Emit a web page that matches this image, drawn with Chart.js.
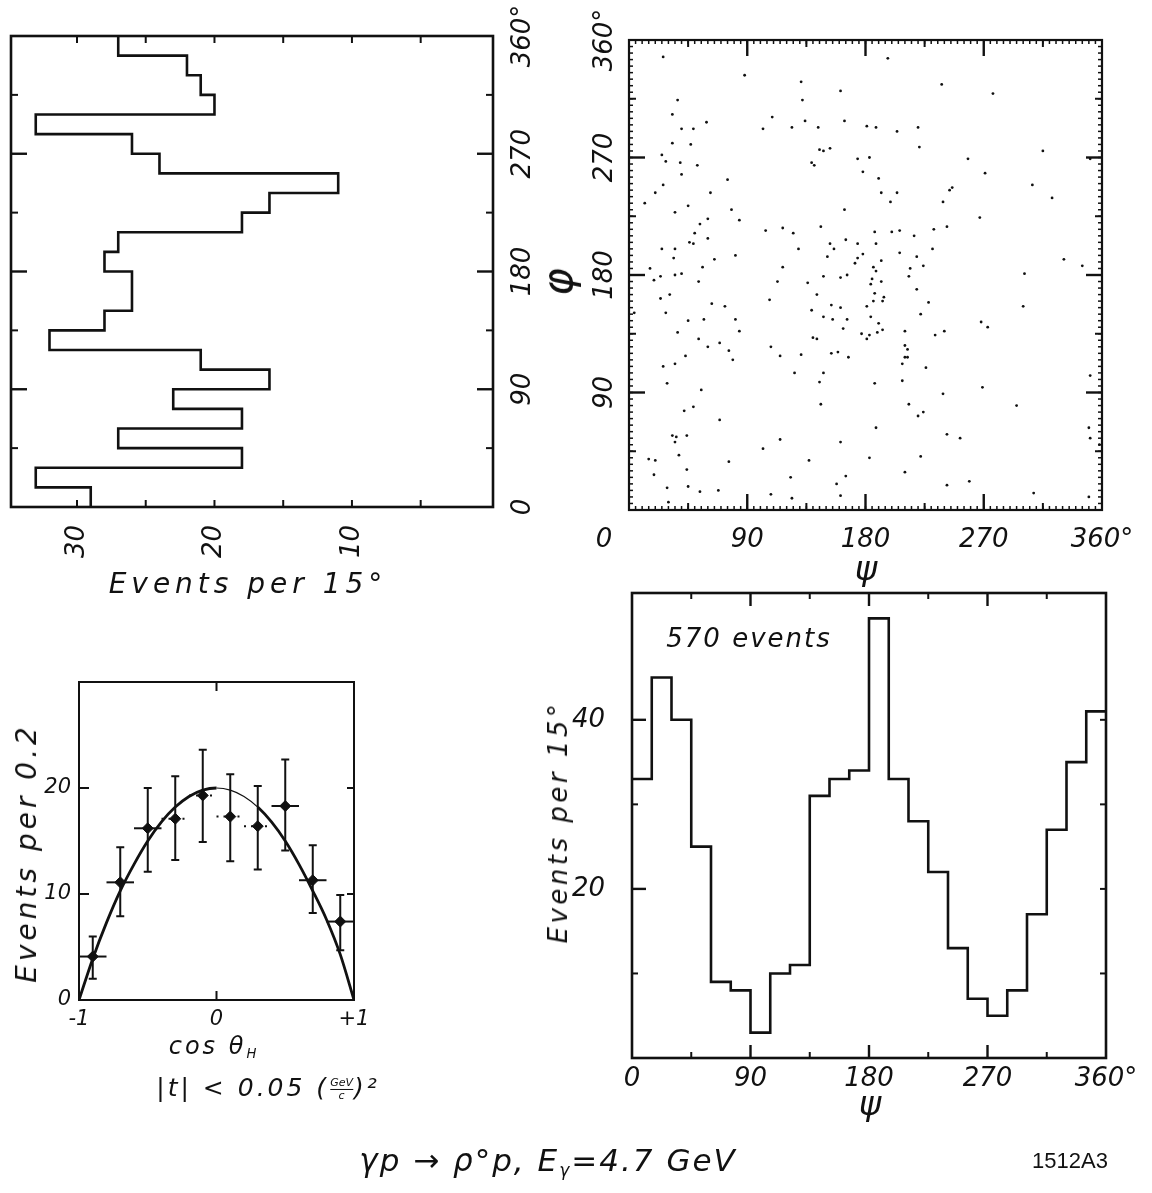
<!DOCTYPE html>
<html lang="en">
<head>
<meta charset="utf-8">
<title>γp → ρ°p, Eγ = 4.7 GeV</title>
<script src="https://cdn.jsdelivr.net/npm/chart.js@4.4.1/dist/chart.umd.min.js"></script>
<style>
  html, body { margin: 0; background: #fff; }
  #figura { position: relative; width: 1152px; height: 1193px; overflow: hidden;
            font-family: "DejaVu Sans", sans-serif; color: #111; }
  #figura canvas { position: absolute; left: 0; top: 0; }
  .rotulo { position: absolute; transform: translate(-50%, -50%); white-space: nowrap;
            font-style: italic; line-height: 1; z-index: 5; }
  .vertical { transform: translate(-50%, -50%) rotate(-90deg); }
  .rotulo sub { font-size: 0.55em; vertical-align: -0.35em; }
  .fracao { display: inline-block; vertical-align: middle; font-size: 11px; text-align: center;
            line-height: 1.05; letter-spacing: 0; margin: 0 1px; }
  .fracao span { display: block; }
  .fracao span:first-child { border-bottom: 1px solid #111; }
</style>
</head>
<body>
<div id="figura">
  <canvas id="graficoPhi" width="1152" height="1193"></canvas>
  <canvas id="graficoDispersao" width="1152" height="1193"></canvas>
  <canvas id="graficoCos" width="1152" height="1193"></canvas>
  <canvas id="graficoPsi" width="1152" height="1193"></canvas>

  <div class="rotulo" style="left:248px; top:584px; font-size:28px; letter-spacing:5px;">Events per 15°</div>
  <div class="rotulo vertical" style="left:558px; top:282px; font-size:42px;">φ</div>
  <div class="rotulo" style="left:866px; top:568px; font-size:34px;">ψ</div>

  <div class="rotulo vertical" style="left:27px; top:853px; font-size:28px; letter-spacing:4px;">Events per 0.2</div>
  <div class="rotulo" style="left:214px; top:1047px; font-size:24px; letter-spacing:3px;">cos θ<sub>H</sub></div>
  <div class="rotulo" style="left:268px; top:1088px; font-size:25px; letter-spacing:3px;">|t| &lt; 0.05 (<span class="fracao"><span>GeV</span><span>c</span></span>)²</div>

  <div class="rotulo" style="left:749px; top:638px; font-size:26px; letter-spacing:2px;">570 events</div>
  <div class="rotulo vertical" style="left:558px; top:822px; font-size:26px; letter-spacing:3.5px;">Events per 15°</div>
  <div class="rotulo" style="left:870px; top:1103px; font-size:34px;">ψ</div>

  <div class="rotulo" style="left:548px; top:1162px; font-size:31px; letter-spacing:2px;">γp → ρ°p, E<sub>γ</sub>=4.7 GeV</div>
  <div class="rotulo" style="left:1070px; top:1161px; font-size:22px; font-style:normal; font-family:'Liberation Sans Narrow','Liberation Sans',sans-serif;">1512A3</div>
</div>

<script>
// Histograma de phi (barras deitadas, 15 graus por bin)
const phiBordas    = [0, 15, 30, 45, 60, 75, 90, 105, 120, 135, 150, 165, 180,
                      195, 210, 225, 240, 255, 270, 285, 300, 315, 330, 345, 360];
const phiContagens = [29, 33, 18, 27, 18, 23, 16, 21, 32, 28, 26, 26,
                      28, 27, 18, 16, 11, 24, 26, 33, 20, 21, 22, 27];
const contagemTicks   = [10, 20, 30];
const contagemRotulos = ['10', '20', '30'];
const anguloTicks     = [0, 90, 180, 270, 360];
const anguloRotulos   = ['0', '90', '180', '270', '360°'];

// Histograma de psi
const psiBordas    = [0, 15, 30, 45, 60, 75, 90, 105, 120, 135, 150, 165, 180,
                      195, 210, 225, 240, 255, 270, 285, 300, 315, 330, 345, 360];
const psiContagens = [33, 45, 40, 25, 9, 8, 3, 10, 11, 31, 33, 34,
                      52, 33, 28, 22, 13, 7, 5, 8, 17, 27, 35, 41];
const psiEventosTicks   = [20, 40];
const psiEventosRotulos = ['20', '40'];

// Eventos individuais no plano psi x phi (graus)
const dispersaoPsi = [
  26, 88, 131, 161, 37, 132, 33, 109, 59, 164, 102, 124, 134, 144, 40, 49, 181, 33, 47, 145,
  148, 153, 25, 28, 39, 52, 139, 141, 174, 178, 40, 26, 75, 62, 20, 45, 12, 35, 78, 84,
  60, 54, 164, 146, 104, 117, 125, 50, 60, 165, 46, 49, 25, 35, 153, 156, 129, 174, 34, 65,
  81, 151, 174, 178, 56, 16, 117, 172, 35, 40, 24, 148, 166,
  19, 53, 113, 136, 161, 24, 31, 107, 143, 63, 73, 154, 161, 181, 4, 28, 57, 81, 45, 139,
  148, 155, 166, 37, 84, 163, 177, 53, 69, 140, 143, 181, 60, 76, 108, 43, 79, 115, 131, 154,
  159, 167, 26, 35, 126, 148, 29, 55, 145, 42, 49, 146, 69, 33, 36, 44, 35, 115, 102, 161,
  15, 20, 38, 76, 137, 19, 44, 123, 165, 29, 45, 158, 54, 68, 108, 161, 30, 124,
  197, 238, 277, 188, 204, 220, 221, 183, 258, 315, 351, 190, 271, 307, 192, 204, 199, 239, 244, 246,
  267, 322, 187, 200, 206, 232, 242, 217, 188, 206, 231, 219, 192, 224, 186, 188, 214, 331, 345, 301,
  213,
  185, 192, 184, 219, 187, 194, 186, 193, 228, 300, 222, 184, 190, 268, 273, 193, 210, 240, 233, 183,
  189, 210, 212, 212, 210, 208, 226, 187, 208, 239, 269, 351, 213, 224, 220, 295, 188, 242, 252, 350,
  351, 358, 183, 222, 210, 242, 259, 308, 350
];
const dispersaoPhi = [
  347, 333, 328, 321, 314, 314, 303, 301, 297, 298, 292, 293, 298, 293, 292, 292, 294, 281, 280, 276,
  275, 277, 272, 267, 266, 264, 266, 264, 269, 259, 257, 249, 253, 243, 243, 233, 235, 228, 230, 222,
  223, 219, 230, 217, 214, 216, 212, 212, 208, 207, 205, 204, 200, 200, 204, 200, 200, 204, 193, 192,
  195, 194, 193, 196, 186, 185, 186, 189, 180, 181, 179, 179, 180,
  176, 175, 175, 174, 178, 162, 165, 161, 165, 158, 156, 157, 155, 156, 151, 151, 146, 146, 145, 153,
  148, 146, 146, 136, 137, 139, 135, 131, 128, 132, 131, 131, 125, 122, 125, 118, 115, 118, 119, 120,
  121, 117, 110, 112, 105, 105, 97, 92, 98, 76, 79, 81, 69, 57, 56, 57, 52, 54, 47, 52,
  39, 38, 42, 37, 38, 27, 31, 25, 26, 17, 18, 20, 14, 15, 12, 11, 6, 9,
  346, 326, 319, 293, 290, 293, 278, 270, 269, 275, 269, 254, 258, 249, 243, 243, 236, 236, 245, 247,
  224, 239, 213, 213, 214, 215, 217, 210, 204, 197, 200, 194, 191, 187, 186, 183, 185, 192, 187, 181,
  179,
  177, 175, 173, 169, 166, 163, 160, 160, 159, 156, 150, 148, 143, 144, 140, 138, 137, 137, 134, 134,
  136, 126, 123, 117, 117, 112, 109, 97, 99, 89, 94, 103, 81, 75, 72, 80, 63, 58, 55, 63,
  55, 50, 40, 41, 29, 19, 22, 13, 10
];
const psiTicks   = [0, 90, 180, 270, 360];
const psiRotulos = ['', '90', '180', '270', '360°'];

// Distribuicao em cos(theta_H), pontos com erro e curva ajustada
const cosCentros    = [-0.9, -0.7, -0.5, -0.3, -0.1, 0.1, 0.3, 0.5, 0.7, 0.9];
const cosEventos    = [4.1, 11.1, 16.2, 17.1, 19.3, 17.3, 16.4, 18.3, 11.3, 7.4];
const cosErroAlto   = [6.0, 14.4, 20.0, 21.1, 23.6, 21.3, 20.2, 22.7, 14.6, 9.9];
const cosErroBaixo  = [2.0, 7.9, 12.1, 13.2, 14.9, 13.1, 12.3, 14.1, 8.2, 4.7];
const cosMeioBin    = 0.1;
const ajusteCos     = [-1, -0.9, -0.8, -0.7, -0.6, -0.5, -0.4, -0.3, -0.2, -0.1, 0,
                       0.1, 0.2, 0.3, 0.4, 0.5, 0.6, 0.7, 0.8, 0.9, 1];
const ajusteEventos = [0, 3.9, 7.3, 10.3, 12.8, 15.0, 16.8, 18.2, 19.2, 19.8, 20.0,
                       19.8, 19.2, 18.2, 16.8, 15.0, 12.8, 10.3, 7.6, 4.3, 0];
const cosTicks        = [-1, 0, 1];
const cosRotulos      = ['-1', '0', '+1'];
const cosEventosTicks = [0, 10, 20];

const tinta     = '#111';
const fonteEixo = { family: 'DejaVu Sans', size: 26, style: 'italic' };
const fonteCanvas = 'italic 26px "DejaVu Sans"';

Chart.defaults.color = tinta;
Chart.defaults.animation = false;
Chart.defaults.font.family = 'DejaVu Sans';
Chart.defaults.events = [];

const semLegenda = { legend: { display: false }, tooltip: { enabled: false } };

// Moldura, marcas internas dos eixos e rotulos girados
function moldura(cfg) {
    return {
        id: 'moldura',
        afterDatasetsDraw(chart) {
            const { ctx, chartArea: a, scales } = chart;
            ctx.save();
            ctx.strokeStyle = tinta;
            ctx.fillStyle = tinta;
            (cfg.marcas || []).forEach(m => {
                const sc = scales[m.eixo];
                ctx.lineWidth = m.largura || 2;
                m.valores.forEach(v => {
                    const p = sc.getPixelForValue(v);
                    m.lados.forEach(lado => {
                        ctx.beginPath();
                        if (lado === 'top')    { ctx.moveTo(p, a.top);    ctx.lineTo(p, a.top + m.tam); }
                        if (lado === 'bottom') { ctx.moveTo(p, a.bottom); ctx.lineTo(p, a.bottom - m.tam); }
                        if (lado === 'left')   { ctx.moveTo(a.left, p);   ctx.lineTo(a.left + m.tam, p); }
                        if (lado === 'right')  { ctx.moveTo(a.right, p);  ctx.lineTo(a.right - m.tam, p); }
                        ctx.stroke();
                    });
                });
            });
            ctx.lineWidth = cfg.espessura;
            ctx.strokeRect(a.left, a.top, a.right - a.left, a.bottom - a.top);

            ctx.font = fonteCanvas;
            ctx.textAlign = 'center';
            ctx.textBaseline = 'middle';
            (cfg.rotulosLaterais || []).forEach(r => {
                const sc = scales[r.eixo];
                r.valores.forEach((v, i) => {
                    const p = sc.getPixelForValue(v);
                    const x = r.lado === 'right' ? a.right + r.distancia : a.left - r.distancia;
                    ctx.save();
                    ctx.translate(x, p);
                    ctx.rotate(-Math.PI / 2);
                    ctx.fillText(r.textos[i], 0, 0);
                    ctx.restore();
                });
            });
            (cfg.notas || []).forEach(n => ctx.fillText(n.texto, a.left + n.dx, a.bottom + n.dy));
            ctx.restore();
        }
    };
}

const passo5 = [];
for (let g = 5; g < 360; g += 5) passo5.push(g);

// ---- Painel phi (histograma deitado) ----
new Chart(document.getElementById('graficoPhi'), {
    type: 'scatter',
    data: {
        datasets: [{
            data: phiContagens.map((c, i) => ({ x: c, y: phiBordas[i] }))
                .concat([{ x: phiContagens[phiContagens.length - 1], y: phiBordas[phiBordas.length - 1] }]),
            showLine: true,
            stepped: 'after',
            borderColor: tinta,
            borderWidth: 2.6,
            pointRadius: 0,
            fill: false
        }]
    },
    options: {
        responsive: false,
        layout: { padding: { left: 11, top: 36, right: 1152 - 493, bottom: 1193 - 507 - 80 } },
        plugins: semLegenda,
        scales: {
            x: {
                type: 'linear', position: 'bottom', reverse: true, min: -0.26, max: 34.8,
                grid: { display: false, drawTicks: false }, border: { display: false },
                afterBuildTicks: s => { s.ticks = contagemTicks.map(v => ({ value: v })); },
                afterFit: s => { s.height = 80; },
                ticks: { font: fonteEixo, minRotation: 90, maxRotation: 90, padding: 18, autoSkip: false,
                         callback: (v, i) => contagemRotulos[i] }
            },
            y: { type: 'linear', min: 0, max: 360, display: false }
        }
    },
    plugins: [moldura({
        espessura: 2.6,
        marcas: [
            { eixo: 'x', valores: [5, 10, 15, 20, 25, 30], lados: ['top', 'bottom'], tam: 7 },
            { eixo: 'y', valores: [90, 180, 270], lados: ['left', 'right'], tam: 16, largura: 2.4 },
            { eixo: 'y', valores: [45, 135, 225, 315], lados: ['left', 'right'], tam: 7 }
        ],
        rotulosLaterais: [{ eixo: 'y', lado: 'right', distancia: 30, valores: anguloTicks, textos: anguloRotulos }]
    })]
});

// ---- Painel psi x phi (dispersao) ----
new Chart(document.getElementById('graficoDispersao'), {
    type: 'scatter',
    data: {
        datasets: [{
            data: dispersaoPsi.map((p, i) => ({ x: p, y: dispersaoPhi[i] })),
            pointRadius: 1.4,
            pointBorderWidth: 0,
            backgroundColor: tinta
        }]
    },
    options: {
        responsive: false,
        layout: { padding: { left: 629, top: 40, right: 1152 - 1102, bottom: 1193 - 510 - 60 } },
        plugins: semLegenda,
        scales: {
            x: {
                type: 'linear', position: 'bottom', min: 0, max: 360,
                grid: { display: false, drawTicks: false }, border: { display: false },
                afterBuildTicks: s => { s.ticks = psiTicks.map(v => ({ value: v })); },
                afterFit: s => { s.height = 60; },
                ticks: { font: fonteEixo, padding: 15, autoSkip: false, maxRotation: 0,
                         callback: (v, i) => psiRotulos[i] }
            },
            y: { type: 'linear', min: 0, max: 360, display: false }
        }
    },
    plugins: [moldura({
        espessura: 2.2,
        marcas: [
            { eixo: 'x', valores: passo5, lados: ['top', 'bottom'], tam: 4, largura: 1.5 },
            { eixo: 'y', valores: passo5, lados: ['left', 'right'], tam: 4, largura: 1.5 },
            { eixo: 'x', valores: [45, 135, 225, 315], lados: ['top', 'bottom'], tam: 7 },
            { eixo: 'y', valores: [45, 135, 225, 315], lados: ['left', 'right'], tam: 7 },
            { eixo: 'x', valores: [90, 180, 270], lados: ['top', 'bottom'], tam: 16, largura: 2.4 },
            { eixo: 'y', valores: [90, 180, 270], lados: ['left', 'right'], tam: 16, largura: 2.4 }
        ],
        rotulosLaterais: [{ eixo: 'y', lado: 'left', distancia: 24,
                            valores: anguloTicks.slice(1), textos: anguloRotulos.slice(1) }],
        notas: [{ texto: '0', dx: -25, dy: 30 }]
    })]
});

// ---- Painel cos(theta_H) ----
const barrasErro = {
    id: 'barrasErro',
    afterDatasetsDraw(chart) {
        const { ctx, scales: { x, y } } = chart;
        ctx.save();
        ctx.strokeStyle = tinta;
        ctx.lineWidth = 2;
        cosCentros.forEach((c, i) => {
            const px  = x.getPixelForValue(c);
            const py  = y.getPixelForValue(cosEventos[i]);
            const top = y.getPixelForValue(cosErroAlto[i]);
            const bot = y.getPixelForValue(cosErroBaixo[i]);
            const esq = x.getPixelForValue(c - cosMeioBin);
            const dir = x.getPixelForValue(c + cosMeioBin);
            ctx.beginPath();
            ctx.moveTo(px, top); ctx.lineTo(px, bot);
            ctx.moveTo(px - 4, top); ctx.lineTo(px + 4, top);
            ctx.moveTo(px - 4, bot); ctx.lineTo(px + 4, bot);
            ctx.stroke();
            // barras horizontais do meio aparecem pontilhadas
            ctx.setLineDash(Math.abs(c) < 0.4 ? [2, 5] : []);
            ctx.beginPath();
            ctx.moveTo(esq, py); ctx.lineTo(dir, py);
            ctx.stroke();
            ctx.setLineDash([]);
        });
        ctx.restore();
    }
};

new Chart(document.getElementById('graficoCos'), {
    type: 'scatter',
    data: {
        datasets: [{
            data: ajusteCos.map((c, i) => ({ x: c, y: ajusteEventos[i] })),
            showLine: true,
            cubicInterpolationMode: 'monotone',
            pointRadius: 0,
            borderColor: tinta,
            borderWidth: 2.8,
            segment: {
                borderWidth: ctx => (ctx.p0.parsed.x >= -0.05 && ctx.p1.parsed.x <= 0.35 ? 1.2 : 2.8)
            }
        }, {
            data: cosCentros.map((c, i) => ({ x: c, y: cosEventos[i] })),
            pointStyle: 'rectRot',
            pointRadius: 5.5,
            backgroundColor: tinta,
            borderColor: tinta
        }]
    },
    options: {
        responsive: false,
        layout: { padding: { left: 79 - 50, top: 682, right: 1152 - 354, bottom: 1193 - 1000 - 40 } },
        plugins: semLegenda,
        scales: {
            x: {
                type: 'linear', min: -1, max: 1,
                grid: { display: false, drawTicks: false }, border: { display: false },
                afterBuildTicks: s => { s.ticks = cosTicks.map(v => ({ value: v })); },
                afterFit: s => { s.height = 40; },
                ticks: { font: { family: 'DejaVu Sans', size: 21, style: 'italic' }, padding: 7,
                         autoSkip: false, maxRotation: 0, callback: (v, i) => cosRotulos[i] }
            },
            y: {
                type: 'linear', min: 0, max: 30,
                grid: { display: false, drawTicks: false }, border: { display: false },
                afterBuildTicks: s => { s.ticks = cosEventosTicks.map(v => ({ value: v })); },
                afterFit: s => { s.width = 50; },
                ticks: { font: { family: 'DejaVu Sans', size: 21, style: 'italic' }, padding: 8 }
            }
        }
    },
    plugins: [barrasErro, moldura({
        espessura: 2,
        marcas: [
            { eixo: 'y', valores: [10, 20], lados: ['left'], tam: 10 },
            { eixo: 'y', valores: [10, 20], lados: ['right'], tam: 7 },
            { eixo: 'x', valores: [0], lados: ['top', 'bottom'], tam: 9 }
        ]
    })]
});

// ---- Painel psi (histograma) ----
new Chart(document.getElementById('graficoPsi'), {
    type: 'scatter',
    data: {
        datasets: [{
            data: psiContagens.map((c, i) => ({ x: psiBordas[i], y: c }))
                .concat([{ x: psiBordas[psiBordas.length - 1], y: psiContagens[psiContagens.length - 1] }]),
            showLine: true,
            stepped: 'before',
            borderColor: tinta,
            borderWidth: 2.6,
            pointRadius: 0,
            fill: false
        }]
    },
    options: {
        responsive: false,
        layout: { padding: { left: 632 - 60, top: 593, right: 1152 - 1106, bottom: 1193 - 1058 - 45 } },
        plugins: semLegenda,
        scales: {
            x: {
                type: 'linear', min: 0, max: 360,
                grid: { display: false, drawTicks: false }, border: { display: false },
                afterBuildTicks: s => { s.ticks = psiTicks.map(v => ({ value: v })); },
                afterFit: s => { s.height = 45; },
                ticks: { font: fonteEixo, padding: 6, autoSkip: false, maxRotation: 0,
                         callback: (v, i) => anguloRotulos[i] }
            },
            y: {
                type: 'linear', min: 0, max: 55,
                grid: { display: false, drawTicks: false }, border: { display: false },
                afterBuildTicks: s => { s.ticks = psiEventosTicks.map(v => ({ value: v })); },
                afterFit: s => { s.width = 60; },
                ticks: { font: fonteEixo, padding: 27, callback: (v, i) => psiEventosRotulos[i] }
            }
        }
    },
    plugins: [moldura({
        espessura: 2.6,
        marcas: [
            { eixo: 'x', valores: [90, 180, 270], lados: ['top', 'bottom'], tam: 13, largura: 2.4 },
            { eixo: 'x', valores: [45, 135, 225, 315], lados: ['top', 'bottom'], tam: 6 },
            { eixo: 'y', valores: [20, 40], lados: ['left'], tam: 14, largura: 2.4 },
            { eixo: 'y', valores: [10, 30], lados: ['left'], tam: 6 },
            { eixo: 'y', valores: [10, 20, 30, 40], lados: ['right'], tam: 6 }
        ]
    })]
});
</script>
</body>
</html>
